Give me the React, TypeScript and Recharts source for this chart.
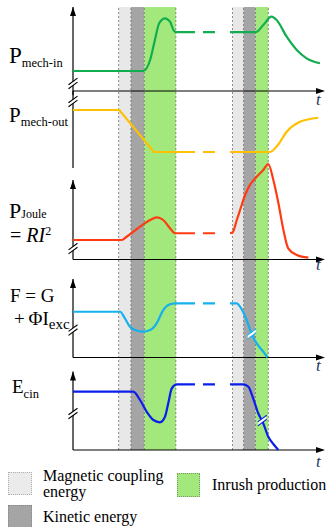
import React from "react";
import {
  ComposedChart, Line, XAxis, YAxis, ReferenceArea, ReferenceLine, ReferenceDot,
} from "recharts";

type Pt = { t: number; v: number };
const pts = (rows: number[][]): Pt[] => rows.map(([t, v]) => ({ t, v }));

// time: 0 = origin of the axes, 100 = tip of the time arrow
// each signal: 0 = its own time axis, 100 = tip of its vertical arrow
const MECH_IN_START = pts([
  [0, 23.8], [18.3, 23.8], [27.9, 23.8], [30.6, 36.9], [32.5, 60.7], [34.2, 80.6],
  [36.5, 86.5], [38.5, 82.5], [40.1, 71.4], [40.9, 70.2], [48.4, 70.2],
]);
const MECH_IN_END = pts([
  [62.3, 70.2], [72.6, 70.2], [75.5, 78.6], [78.8, 88.5], [80.8, 84.5],
  [84.8, 64.6], [88.8, 48.8], [92.7, 38.9], [98, 33.0],
]);

const MECH_OUT_START = pts([[0, 75.3], [18.4, 75.3], [32.1, 20.8], [48.4, 20.8]]);
const MECH_OUT_END = pts([
  [62.3, 20.8], [78.2, 20.8], [81.3, 29.9], [84.8, 47.1], [90.1, 60.1], [97.3, 65.3],
]);

const JOULE_START = pts([
  [0, 24.5], [19.3, 24.5], [21.4, 28.9], [26.6, 41.3], [30.6, 49.7], [33.2, 53.1],
  [35.8, 49.7], [38.5, 39.2], [40.5, 33.0], [48.4, 33.0],
]);
const JOULE_END = pts([
  [62.3, 33.0], [63.3, 34.0], [65.0, 49.7], [66.3, 62.3], [68.3, 81.1], [70.2, 93.7],
  [72.9, 104.2], [75.5, 112.6], [77.5, 120.1], [79.5, 100], [81.5, 71.1], [83.5, 37.1],
  [85.4, 14.1], [88.8, 5.7], [93.4, 2.3],
]);

const FIELD_START = pts([
  [0, 58.3], [18.7, 58.3], [20.6, 49.9], [22.6, 39.2], [24.6, 35.0], [27.8, 32.9],
  [30.6, 35.0], [33.2, 43.6], [35.8, 60.5], [38.5, 67.8], [40.8, 69.0], [48.4, 69.0],
]);
const FIELD_END = pts([
  [62.3, 69.0], [65.0, 69.0], [66.3, 64.7], [68.9, 47.8], [70.9, 29.9], [72.9, 18.1],
  [75.5, 7.4], [77.2, 0],
]);

const ECIN_START = pts([
  [0, 74.3], [23.9, 74.3], [26.6, 63.7], [29.2, 48.8], [31.9, 38.2], [34.5, 35.3],
  [36.5, 42.4], [37.8, 59.5], [39.2, 78.6], [41.2, 83.7], [48.4, 83.7],
]);
const ECIN_END = pts([
  [62.3, 83.7], [67.6, 83.7], [69.6, 80.6], [71.5, 65.9], [73.5, 46.8], [75.5, 34.0],
  [77.5, 16.9], [79.5, 7.6], [81.5, 0],
]);

// phases (time)
const COUPLING = [[18.1, 23.0], [63.3, 67.7]];
const KINETIC = [[23.0, 28.3], [67.7, 72.4]];
const INRUSH = [[28.3, 40.8], [72.4, 77.5]];

// where the axes / curves are broken ("//")
const AXIS_BREAKS = [9, 86.4, 13.8, 35, 46.5];
const FIELD_BREAK = { t: 70.9, v: 29.9 };
const ECIN_BREAK = { t: 75.1, v: 37.5 };

const W = 332;
const CHART_H = 460;
const PLOT_TOP = 7;
const PLOT_BOTTOM = 450;
const ORIGIN_X = 73;
const ARROW_X = 325;
const PX_PER_T = (ARROW_X - ORIGIN_X) / 100;
const X_DOMAIN = [-ORIGIN_X / PX_PER_T, (W - ORIGIN_X) / PX_PER_T];

const PANELS = [
  { id: "in", base: 91, top: 7, color: "#12ad4e", start: MECH_IN_START, end: MECH_IN_END, startCurve: "monotone", arrows: true, axisFrom: -5, brk: null },
  { id: "out", base: 168, top: 91, color: "#ffc000", start: MECH_OUT_START, end: MECH_OUT_END, startCurve: "linear", arrows: false, axisFrom: 0, brk: null },
  { id: "joule", base: 259.5, top: 180, color: "#ff3b12", start: JOULE_START, end: JOULE_END, startCurve: "monotone", arrows: true, axisFrom: 0, brk: null },
  { id: "field", base: 357.5, top: 279, color: "#14b1ee", start: FIELD_START, end: FIELD_END, startCurve: "monotone", arrows: true, axisFrom: 0, brk: FIELD_BREAK },
  { id: "ecin", base: 450, top: 371.5, color: "#0a1eea", start: ECIN_START, end: ECIN_END, startCurve: "monotone", arrows: true, axisFrom: 0, brk: ECIN_BREAK },
];

const yDomain = (p: { base: number; top: number }) => {
  const span = p.base - p.top;
  return [((p.base - PLOT_BOTTOM) * 100) / span, ((p.base - PLOT_TOP) * 100) / span];
};

const FONT = "'Liberation Serif', 'DejaVu Serif', serif";
const T_COLOR = "#1f3763";

const upArrow = (p: any) => (
  <path d={`M${p.cx},${p.cy} L${p.cx - 3},${p.cy + 9} L${p.cx + 3},${p.cy + 9} Z`} fill="#000" />
);
const rightArrow = (p: any) => (
  <path d={`M${p.cx},${p.cy} L${p.cx - 9},${p.cy - 3} L${p.cx - 9},${p.cy + 3} Z`} fill="#000" />
);
const breakMark = (color: string) => (p: any) => {
  const { cx, cy } = p;
  return (
    <g>
      <path
        d={`M${cx - 4},${cy + 1} L${cx + 4},${cy - 5} L${cx + 4},${cy - 1} L${cx - 4},${cy + 5} Z`}
        fill="#fff"
      />
      <line x1={cx - 4.5} y1={cy + 1.3} x2={cx + 4.5} y2={cy - 5.3} stroke={color} strokeWidth={1.1} />
      <line x1={cx - 4.5} y1={cy + 5.3} x2={cx + 4.5} y2={cy - 1.3} stroke={color} strokeWidth={1.1} />
    </g>
  );
};

function Txt({ x, base, size, children, style }: any) {
  return (
    <div
      style={{
        position: "absolute", left: x, top: base - 0.84 * size, fontSize: size,
        lineHeight: `${size}px`, whiteSpace: "nowrap", fontFamily: FONT, color: "#000", ...style,
      }}
    >
      {children}
    </div>
  );
}

const sub = (size: number, drop: number) => ({ fontSize: size, position: "relative" as const, top: drop });

function Swatch({ x, y, w, h, fill, border }: any) {
  return (
    <div
      style={{
        position: "absolute", left: x, top: y, width: w, height: h, background: fill,
        border: `1px dotted ${border}`, boxSizing: "border-box",
      }}
    />
  );
}

export default function App() {
  const bandSets = [
    { spans: COUPLING, fill: "#e8e8e8" },
    { spans: KINETIC, fill: "#a5a5a5" },
    { spans: INRUSH, fill: "#a2e87c" },
  ];
  const edges = Array.from(new Set([...COUPLING, ...KINETIC, ...INRUSH].flat()));

  return (
    <div style={{ position: "absolute", left: 0, top: 0, width: W, height: 527, overflow: "hidden", background: "#fff", fontFamily: FONT }}>
      <ComposedChart
        width={W}
        height={CHART_H}
        margin={{ top: PLOT_TOP, right: 0, bottom: CHART_H - PLOT_BOTTOM, left: 0 }}
      >
        <XAxis dataKey="t" type="number" domain={X_DOMAIN} hide />
        {PANELS.map((p) => (
          <YAxis key={p.id} yAxisId={p.id} type="number" domain={yDomain(p)} hide />
        ))}

        {bandSets.map((b) =>
          b.spans.map(([x1, x2]) => (
            <ReferenceArea
              key={`${b.fill}-${x1}`}
              x1={x1}
              x2={x2}
              yAxisId="in"
              fill={b.fill}
              fillOpacity={1}
              stroke="none"
            />
          ))
        )}
        {edges.map((x) => (
          <ReferenceLine key={`e${x}`} x={x} yAxisId="in" stroke="#6f6f6f" strokeWidth={0.8} strokeDasharray="2 2" />
        ))}

        {PANELS.map((p) => (
          <ReferenceLine
            key={`ya-${p.id}`}
            yAxisId={p.id}
            segment={[{ x: 0, y: p.axisFrom }, { x: 0, y: 100 }]}
            stroke="#000"
            strokeWidth={1.2}
          />
        ))}
        {PANELS.filter((p) => p.arrows).map((p) => (
          <ReferenceLine
            key={`xa-${p.id}`}
            yAxisId={p.id}
            segment={[{ x: 0, y: 0 }, { x: 99, y: 0 }]}
            stroke="#000"
            strokeWidth={1.2}
          />
        ))}

        {PANELS.map((p) => (
          <Line
            key={`s-${p.id}`}
            yAxisId={p.id}
            data={p.start}
            dataKey="v"
            type={p.startCurve as any}
            stroke={p.color}
            strokeWidth={2.2}
            dot={false}
            activeDot={false}
            isAnimationActive={false}
          />
        ))}
        {PANELS.map((p) => (
          <Line
            key={`d-${p.id}`}
            yAxisId={p.id}
            data={[p.start[p.start.length - 1], p.end[0]]}
            dataKey="v"
            type="linear"
            stroke={p.color}
            strokeWidth={2.2}
            strokeDasharray="0 8 12 40"
            dot={false}
            activeDot={false}
            isAnimationActive={false}
          />
        ))}
        {PANELS.map((p) => (
          <Line
            key={`e-${p.id}`}
            yAxisId={p.id}
            data={p.end}
            dataKey="v"
            type="monotone"
            stroke={p.color}
            strokeWidth={2.2}
            dot={false}
            activeDot={false}
            isAnimationActive={false}
          />
        ))}

        {PANELS.map((p, i) => (
          <ReferenceDot key={`ab-${p.id}`} yAxisId={p.id} x={0} y={AXIS_BREAKS[i]} r={0} shape={breakMark("#000")} />
        ))}
        {PANELS.filter((p) => p.brk).map((p) => (
          <ReferenceDot key={`lb-${p.id}`} yAxisId={p.id} x={p.brk!.t} y={p.brk!.v} r={0} shape={breakMark(p.color)} />
        ))}
        {PANELS.filter((p) => p.arrows).map((p) => (
          <ReferenceDot key={`ua-${p.id}`} yAxisId={p.id} x={0} y={100} r={0} shape={upArrow} />
        ))}
        {PANELS.filter((p) => p.arrows).map((p) => (
          <ReferenceDot key={`ra-${p.id}`} yAxisId={p.id} x={100} y={0} r={0} shape={rightArrow} />
        ))}
      </ComposedChart>

      {/* signal names */}
      <Txt x={9} base={63} size={23}>
        P<span style={sub(12.5, 4)}>mech-in</span>
      </Txt>
      <Txt x={9} base={123} size={21}>
        P<span style={sub(12.5, 4)}>mech-out</span>
      </Txt>
      <Txt x={9} base={218} size={22}>
        P<span style={sub(12, 0)}>Joule</span>
      </Txt>
      <Txt x={10} base={241.5} size={20}>
        = <i>RI</i><span style={{ fontSize: 12, position: "relative", top: -7 }}>2</span>
      </Txt>
      <Txt x={10} base={302} size={19}>
        F = G
      </Txt>
      <Txt x={14} base={325} size={19}>
        +&#8201;ΦI<span style={sub(15, 4)}>exc</span>
      </Txt>
      <Txt x={12} base={393} size={19}>
        E<span style={sub(12.5, 5)}>cin</span>
      </Txt>

      {/* time labels */}
      {[105, 270, 371, 467].map((b) => (
        <Txt key={b} x={316} base={b} size={17} style={{ fontStyle: "italic", color: T_COLOR }}>
          t
        </Txt>
      ))}

      {/* legend */}
      <Swatch x={8} y={472} w={24} h={23} fill="#ebebeb" border="#b0b0b0" />
      <Txt x={43} base={481} size={16}>Magnetic coupling</Txt>
      <Txt x={43} base={497} size={16}>energy</Txt>
      <Swatch x={177} y={473} w={23} h={24} fill="#a2e87c" border="#7a9a6a" />
      <Txt x={212} base={490} size={16}>Inrush production</Txt>
      <Swatch x={8} y={505} w={24} h={24} fill="#a5a5a5" border="#888" />
      <Txt x={43} base={522} size={16}>Kinetic energy</Txt>
    </div>
  );
}
